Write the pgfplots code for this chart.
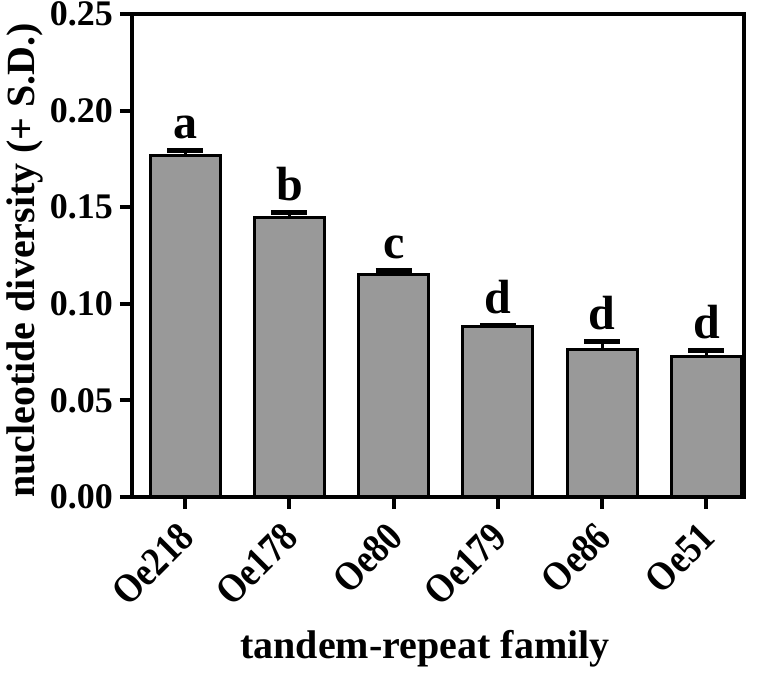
\documentclass[border=0pt]{standalone}
\usepackage{fontspec}
\setmainfont{Liberation Serif}
\newfontfamily\condfont[FakeStretch=0.86]{Liberation Serif}
\usepackage{pgfplots}
\pgfplotsset{compat=1.18}
\usepackage{pgfplotstable}
\pgfplotstableread{
x val err top lab
0 0.1770 0.0026 0.1796 a
1 0.1449 0.0026 0.1475 b
2 0.1154 0.0016 0.1170 c
3 0.0880 0.0010 0.0890 d
4 0.0761 0.0046 0.0807 d
5 0.0725 0.0031 0.0756 d
}\datatable
\definecolor{bargray}{HTML}{999999}
\begin{document}
\begin{tikzpicture}
\useasboundingbox (-66pt,-91pt) rectangle (314pt,248.5pt);
\begin{axis}[
  scale only axis,
  width=306pt, height=241.5pt,
  xmin=-0.51, xmax=5.36,
  ymin=0, ymax=0.25,
  axis line style={line width=2pt},
  ytick={0,0.05,0.10,0.15,0.20,0.25},
  yticklabel style={/pgf/number format/fixed, /pgf/number format/fixed zerofill, /pgf/number format/precision=2, font=\fontsize{18}{18}\selectfont\bfseries},
  /pgf/number format/assume math mode=true,
  xtick={0,1,2,3,4,5},
  xticklabels={Oe218,Oe178,Oe80,Oe179,Oe86,Oe51},
  xticklabel style={rotate=45, anchor=east, font=\condfont\fontsize{20.5}{20.5}\selectfont\bfseries, xshift=-3.5pt, yshift=-8pt},
  tick align=outside,
  major tick length=6pt,
  tick style={line width=2pt, black},
  xtick pos=bottom, ytick pos=left,
  ylabel={nucleotide diversity (+ S.D.)},
  ylabel style={at={(axis description cs:0,0.49)}, anchor=center, yshift=53.5pt, font=\fontsize{20}{20}\selectfont\bfseries},
  xlabel={tandem-repeat family},
  xlabel style={at={(axis description cs:0.5,0)}, anchor=base, yshift=-80.5pt, xshift=-6.5pt, font=\fontsize{20}{20}\selectfont\bfseries},
  clip=false,
]
\addplot[ybar, bar width=35pt, fill=bargray, draw=black, line width=1.5pt,
  error bars/.cd, y dir=plus, y explicit,
  error bar style={line width=1.5pt, black},
  error mark options={line width=2.5pt, mark size=9pt, black, rotate=90}]
  table[x=x, y=val, y error=err] {\datatable};
\addplot[only marks, mark=none,
  nodes near coords, point meta=explicit symbolic,
  every node near coord/.append style={anchor=base, yshift=6pt, font=\fontsize{24}{24}\selectfont\bfseries}]
  table[x=x, y=top, meta=lab] {\datatable};
\end{axis}
\end{tikzpicture}
\end{document}
